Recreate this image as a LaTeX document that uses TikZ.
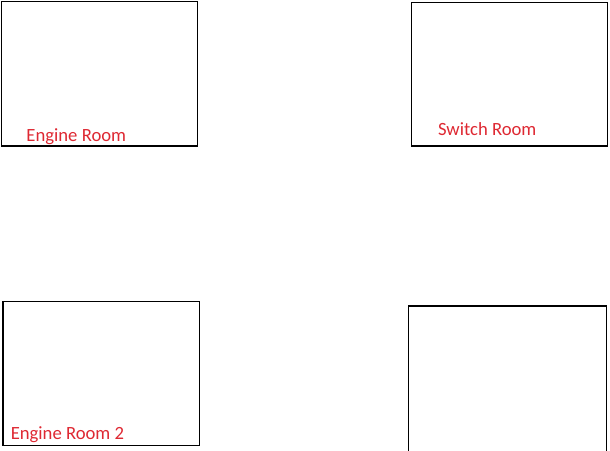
\documentclass[tikz,border=0pt]{standalone}
\usepackage{fontspec}
\setmainfont{Carlito}
\definecolor{lbl}{RGB}{222,40,50}
\begin{document}
\begin{tikzpicture}[x=0.75pt,y=-0.75pt,
  room/.style={draw=black,line width=0.8pt},
  lab/.style={anchor=base west,inner sep=0pt,text=lbl,font=\fontsize{14pt}{17pt}\selectfont}]
\useasboundingbox (0,0) rectangle (610,450);
\clip (0,0) rectangle (610,450);
\draw[room] (1.7,1.7) rectangle (197.5,146);
\draw[room] (411.7,2.3) rectangle (607.3,146);
\draw[room] (3,301.7) rectangle (199.5,445.7);
\draw[room] (408.7,306) rectangle (606.7,455);
\node[lab] (t1) at (26.2,141.7) {Engine Room};
\node[lab] (t2) at (437.8,135) {Switch Room};
\node[lab] (t3) at (10.5,439) {Engine Room 2};
\end{tikzpicture}
\end{document}
